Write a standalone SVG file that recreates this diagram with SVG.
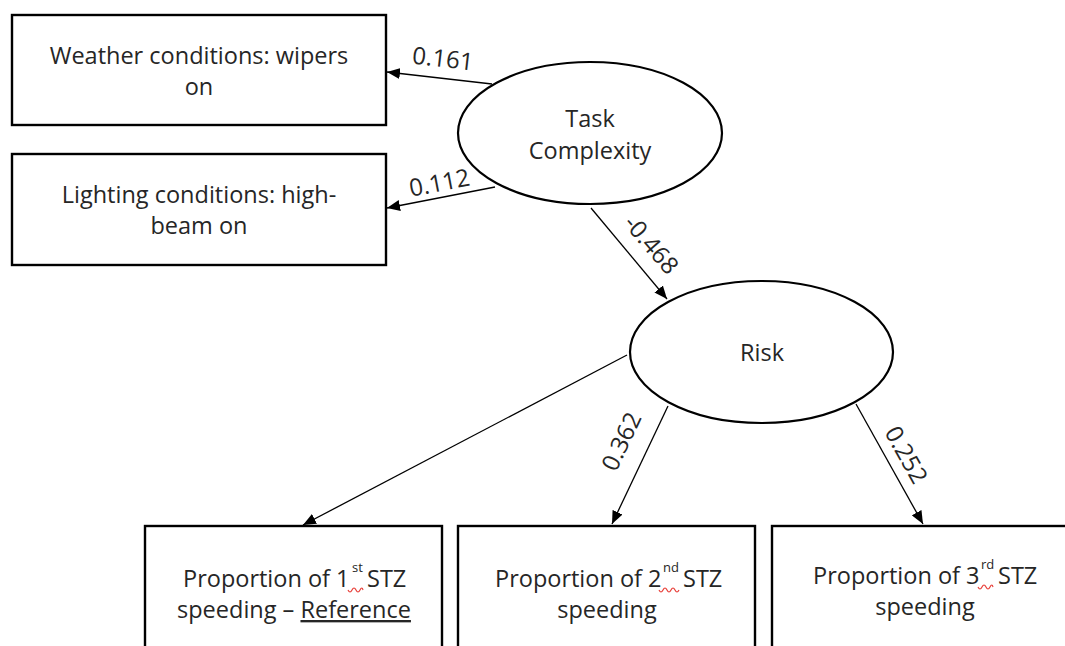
<svg xmlns="http://www.w3.org/2000/svg" width="1065" height="646" viewBox="0 0 1065 646">
  <style>
    .box { fill: #ffffff; stroke: #000000; stroke-width: 2.4; }
    .oval { fill: #ffffff; stroke: #000000; stroke-width: 2.2; }
    .t { font-family: "Open Sans", "Noto Sans", sans-serif; font-size: 23.5px; fill: #262626; text-anchor: middle; }
    .ts { font-family: "Open Sans", "Noto Sans", sans-serif; font-size: 23.5px; fill: #262626; }
    .sup { font-size: 13px; }
    .lbl { font-family: "Open Sans", "Noto Sans", sans-serif; font-size: 24px; fill: #262626; text-anchor: middle; }
    .edge { stroke: #000000; stroke-width: 1.3; fill: none; marker-end: url(#head); }
    .squig { stroke: #e8403a; stroke-width: 1.2; fill: none; }
  </style>
  <defs>
    <marker id="head" viewBox="0 0 13 11" refX="13" refY="5.5" markerWidth="13" markerHeight="11" markerUnits="userSpaceOnUse" orient="auto">
      <path d="M0,0 L13,5.5 L0,11 Z" fill="#000000"/>
    </marker>
  </defs>

  <rect width="1065" height="646" fill="#ffffff"/>

  <!-- connectors -->
  <g id="connectors">
    <line class="edge" x1="492" y1="84" x2="387" y2="72"/>
    <line class="edge" x1="495" y1="187" x2="387" y2="208"/>
    <line class="edge" x1="591" y1="208" x2="667" y2="299"/>
    <line class="edge" x1="627" y1="355" x2="303" y2="525"/>
    <line class="edge" x1="668" y1="406" x2="612" y2="524"/>
    <line class="edge" x1="856" y1="404" x2="923" y2="524"/>
    <text class="lbl" transform="translate(442,67) rotate(6.5)">0.161</text>
    <text class="lbl" transform="translate(441,191) rotate(-11)">0.112</text>
    <text class="lbl" transform="translate(645,250) rotate(49)">-0.468</text>
    <text class="lbl" transform="translate(629,445) rotate(-64.6)">0.362</text>
    <text class="lbl" transform="translate(899,459) rotate(60.7)">0.252</text>
  </g>

  <g id="weather">
    <rect class="box" x="12" y="15" width="374" height="110"/>
    <text class="t" x="199" y="64">Weather conditions: wipers</text>
    <text class="t" x="199" y="95">on</text>
  </g>

  <g id="lighting">
    <rect class="box" x="12" y="154" width="374" height="111"/>
    <text class="t" x="199" y="203">Lighting conditions: high-</text>
    <text class="t" x="199" y="234">beam on</text>
  </g>

  <g id="task-complexity">
    <ellipse class="oval" cx="590" cy="133" rx="132" ry="71"/>
    <text class="t" x="590" y="127">Task</text>
    <text class="t" x="590" y="159">Complexity</text>
  </g>

  <g id="risk">
    <ellipse class="oval" cx="761.5" cy="352" rx="131.5" ry="71"/>
    <text class="t" x="762" y="361">Risk</text>
  </g>

  <g id="stz1">
    <rect class="box" x="145" y="526" width="297" height="140"/>
    <text class="ts" y="587"><tspan x="183">Proportion of 1</tspan><tspan class="sup" x="352" y="572">st</tspan><tspan x="367" y="587">STZ</tspan></text>
    <path class="squig" d="M348,590 q2,4 4,0 t4,0 t4,0 t3,0"/>
    <text class="t" x="294" y="618">speeding – <tspan text-decoration="underline">Reference</tspan></text>
  </g>

  <g id="stz2">
    <rect class="box" x="458" y="526" width="297" height="140"/>
    <text class="ts" y="587"><tspan x="495">Proportion of 2</tspan><tspan class="sup" x="663" y="572">nd</tspan><tspan x="683" y="587">STZ</tspan></text>
    <path class="squig" d="M659,590 q2,4 4,0 t4,0 t4,0 t4,0 t4,0"/>
    <text class="t" x="607" y="618">speeding</text>
  </g>

  <g id="stz3">
    <rect class="box" x="772" y="526" width="306" height="140"/>
    <text class="ts" y="584"><tspan x="813">Proportion of 3</tspan><tspan class="sup" x="981" y="569">rd</tspan><tspan x="998" y="584">STZ</tspan></text>
    <path class="squig" d="M978,587 q2,4 4,0 t4,0 t4,0 t3,0"/>
    <text class="t" x="925" y="615">speeding</text>
  </g>
</svg>
